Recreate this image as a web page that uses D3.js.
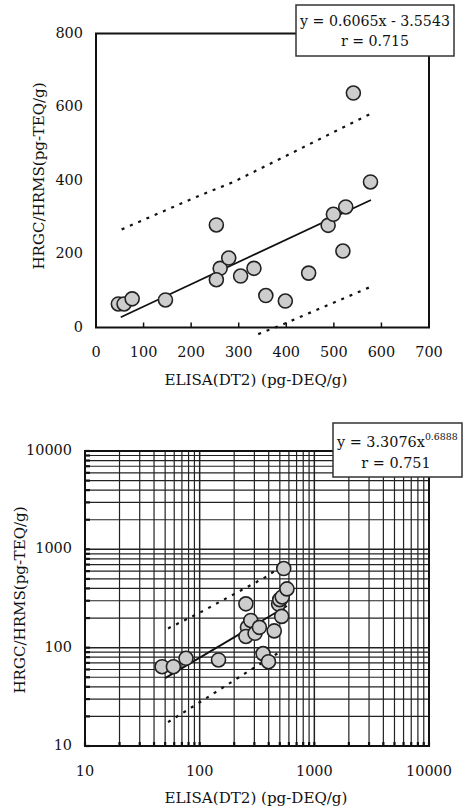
<!DOCTYPE html>
<html lang="ja">
<head>
<meta charset="utf-8">
<title>ELISA vs HRGC/HRMS</title>
<script src="https://cdn.jsdelivr.net/npm/d3@7/dist/d3.min.js"></script>
<style>
  body { margin: 0; background: #fff; }
  svg text { font-family: "DejaVu Serif", serif; fill: #111; }
</style>
</head>
<body>
<div id="chart"></div>
<script>
// measured values (ELISA DT2 vs HRGC/HRMS)
var elisa = [47, 59, 76, 146, 253, 261, 253, 279, 304, 332, 357, 398, 447, 488, 499, 525, 519, 577, 541];
var hrms  = [64, 64, 78, 75, 279, 161, 130, 189, 140, 161, 87, 72, 148, 278, 308, 328, 208, 396, 638];

// linear fit and prediction band
var linFitX = [52, 578];
var linFitY = [28, 347];
var linUpX = [54, 212, 289, 578];
var linUpY = [267, 356, 396, 582];
var linLoX = [341, 390, 578];
var linLoY = [-18, 7, 111];

// power fit and band
var powFitX = [50, 577];
var powFitY = [49, 265];
var powUpX = [53, 101, 371, 530];
var powUpY = [157, 228, 518, 680];
var powLoX = [53, 101, 275, 501];
var powLoY = [17.5, 28, 59, 90.5];

var linXTicks = [0, 100, 200, 300, 400, 500, 600, 700];
var linYTicks = [0, 200, 400, 600, 800];
var logTicks = [10, 100, 1000, 10000];

var eqLin = ["y = 0.6065x - 3.5543", "r = 0.715"];
var eqPow = ["y = 3.3076x", "0.6888", "r = 0.751"];
var xTitle = "ELISA(DT2) (pg-DEQ/g)";
var yTitle = "HRGC/HRMS(pg-TEQ/g)";

var W = 466, H = 810;
var svg = d3.select("#chart").append("svg").attr("width", W).attr("height", H);

// font size that makes a string about as wide as in the scanned figure
function fitSize(str, width) {
  var t = svg.append("text").attr("font-size", 20).text(str);
  var w = t.node().getComputedTextLength();
  t.remove();
  return 20 * width / w;
}
var tickFont = fitSize("10000", 46);
var titleFont = fitSize(xTitle, 183);
var eqFont = fitSize(eqLin[0], 150);
var eq2Font = fitSize(eqPow[0], 88);

var pts = elisa.map(function(d, i) { return [d, hrms[i]]; });
function zip(a, b) { return a.map(function(d, i) { return [d, b[i]]; }); }

/* ---------- top: linear chart ---------- */
var x1 = d3.scaleLinear().domain([0, 700]).range([96, 429]);
var y1 = d3.scaleLinear().domain([0, 800]).range([327.5, 33.5]);
var g1 = svg.append("g");

var line1 = d3.line().x(function(d) { return x1(d[0]); }).y(function(d) { return y1(d[1]); });

g1.append("path").attr("d", line1(zip(linUpX, linUpY)))
  .attr("fill", "none").attr("stroke", "#111").attr("stroke-width", 2.2).attr("stroke-dasharray", "3,6");
g1.append("path").attr("d", line1(zip(linLoX, linLoY)))
  .attr("fill", "none").attr("stroke", "#111").attr("stroke-width", 2.2).attr("stroke-dasharray", "3,6");
g1.append("path").attr("d", line1(zip(linFitX, linFitY)))
  .attr("fill", "none").attr("stroke", "#111").attr("stroke-width", 1.8);

g1.append("rect").attr("x", x1(0)).attr("y", y1(800))
  .attr("width", x1(700) - x1(0)).attr("height", y1(0) - y1(800))
  .attr("fill", "none").attr("stroke", "#111").attr("stroke-width", 2);

// inner ticks on the x axis
g1.selectAll(".xt").data(linXTicks.slice(1, -1)).enter().append("line")
  .attr("x1", function(d) { return x1(d); }).attr("x2", function(d) { return x1(d); })
  .attr("y1", y1(0)).attr("y2", y1(0) - 5)
  .attr("stroke", "#111").attr("stroke-width", 1.5);

g1.selectAll(".xl").data(linXTicks).enter().append("text")
  .attr("x", function(d) { return x1(d); }).attr("y", 353)
  .attr("text-anchor", "middle").attr("dominant-baseline", "middle")
  .attr("font-size", tickFont).text(function(d) { return d; });
g1.selectAll(".yl").data(linYTicks).enter().append("text")
  .attr("x", 83).attr("y", function(d) { return y1(d); })
  .attr("text-anchor", "end").attr("dominant-baseline", "middle")
  .attr("font-size", tickFont).text(function(d) { return d; });

g1.selectAll("circle").data(pts).enter().append("circle")
  .attr("cx", function(d) { return x1(d[0]); }).attr("cy", function(d) { return y1(d[1]); })
  .attr("r", 7).attr("fill", "#cdcdcd").attr("stroke", "#222").attr("stroke-width", 1.6);

g1.append("text").attr("x", 256).attr("y", 381).attr("text-anchor", "middle")
  .attr("dominant-baseline", "middle").attr("font-size", titleFont).text(xTitle);
g1.append("text").attr("transform", "translate(40,176) rotate(-90)").attr("text-anchor", "middle")
  .attr("dominant-baseline", "middle").attr("font-size", titleFont).text(yTitle);

g1.append("rect").attr("x", 296).attr("y", 5).attr("width", 158).attr("height", 51)
  .attr("fill", "#fff").attr("stroke", "#333").attr("stroke-width", 1.5);
g1.append("text").attr("x", 375).attr("y", 22).attr("text-anchor", "middle")
  .attr("dominant-baseline", "middle").attr("font-size", eqFont).text(eqLin[0]);
g1.append("text").attr("x", 375).attr("y", 42).attr("text-anchor", "middle")
  .attr("dominant-baseline", "middle").attr("font-size", eqFont).text(eqLin[1]);

/* ---------- bottom: log-log chart ---------- */
var x2 = d3.scaleLog().domain([10, 10000]).range([85, 429]);
var y2 = d3.scaleLog().domain([10, 10000]).range([746, 451]);
var g2 = svg.append("g");

// all 1..9 x decade values for the grid
var grid = [];
[10, 100, 1000].forEach(function(dec) {
  for (var k = 1; k < 10; k++) grid.push(dec * k);
});
grid.push(10000);

g2.selectAll(".gv").data(grid).enter().append("line")
  .attr("x1", function(d) { return x2(d); }).attr("x2", function(d) { return x2(d); })
  .attr("y1", y2(10)).attr("y2", y2(10000))
  .attr("stroke", "#222").attr("stroke-width", function(d) { return logTicks.indexOf(d) >= 0 ? 1.5 : 1.2; });
g2.selectAll(".gh").data(grid).enter().append("line")
  .attr("y1", function(d) { return y2(d); }).attr("y2", function(d) { return y2(d); })
  .attr("x1", x2(10)).attr("x2", x2(10000))
  .attr("stroke", "#222").attr("stroke-width", function(d) { return logTicks.indexOf(d) >= 0 ? 1.5 : 1.2; });

// short tick marks on the left and bottom edges
g2.selectAll(".tl").data(grid).enter().append("line")
  .attr("y1", function(d) { return y2(d); }).attr("y2", function(d) { return y2(d); })
  .attr("x1", x2(10)).attr("x2", x2(10) + 5)
  .attr("stroke", "#111").attr("stroke-width", 2.2);
g2.selectAll(".tb").data(grid).enter().append("line")
  .attr("x1", function(d) { return x2(d); }).attr("x2", function(d) { return x2(d); })
  .attr("y1", y2(10)).attr("y2", y2(10) - 4)
  .attr("stroke", "#111").attr("stroke-width", 2.2);

g2.append("rect").attr("x", x2(10)).attr("y", y2(10000))
  .attr("width", x2(10000) - x2(10)).attr("height", y2(10) - y2(10000))
  .attr("fill", "none").attr("stroke", "#111").attr("stroke-width", 2);

var line2 = d3.line().x(function(d) { return x2(d[0]); }).y(function(d) { return y2(d[1]); });
g2.append("path").attr("d", line2(zip(powUpX, powUpY)))
  .attr("fill", "none").attr("stroke", "#111").attr("stroke-width", 2.2).attr("stroke-dasharray", "3,6");
g2.append("path").attr("d", line2(zip(powLoX, powLoY)))
  .attr("fill", "none").attr("stroke", "#111").attr("stroke-width", 2.2).attr("stroke-dasharray", "3,6");
g2.append("path").attr("d", line2(zip(powFitX, powFitY)))
  .attr("fill", "none").attr("stroke", "#111").attr("stroke-width", 1.8);

g2.selectAll("circle").data(pts).enter().append("circle")
  .attr("cx", function(d) { return x2(d[0]); }).attr("cy", function(d) { return y2(d[1]); })
  .attr("r", 7).attr("fill", "#cdcdcd").attr("stroke", "#222").attr("stroke-width", 1.6);

g2.selectAll(".xl").data(logTicks).enter().append("text")
  .attr("x", function(d) { return x2(d); }).attr("y", 772)
  .attr("text-anchor", "middle").attr("dominant-baseline", "middle")
  .attr("font-size", tickFont).text(function(d) { return d; });
g2.selectAll(".yl").data(logTicks).enter().append("text")
  .attr("x", 72).attr("y", function(d) { return y2(d); })
  .attr("text-anchor", "end").attr("dominant-baseline", "middle")
  .attr("font-size", tickFont).text(function(d) { return d; });

g2.append("text").attr("x", 256).attr("y", 799).attr("text-anchor", "middle")
  .attr("dominant-baseline", "middle").attr("font-size", titleFont).text(xTitle);
g2.append("text").attr("transform", "translate(21,600) rotate(-90)").attr("text-anchor", "middle")
  .attr("dominant-baseline", "middle").attr("font-size", titleFont).text(yTitle);

g2.append("rect").attr("x", 333).attr("y", 423).attr("width", 129).attr("height", 54)
  .attr("fill", "#fff").attr("stroke", "#333").attr("stroke-width", 1.5);
var eq2 = g2.append("text").attr("x", 337).attr("y", 443)
  .attr("dominant-baseline", "middle").attr("font-size", eq2Font);
eq2.append("tspan").text(eqPow[0]);
eq2.append("tspan").attr("dy", -6).attr("font-size", eq2Font * 0.65).text(eqPow[1]);
g2.append("text").attr("x", 396).attr("y", 464).attr("text-anchor", "middle")
  .attr("dominant-baseline", "middle").attr("font-size", eq2Font).text(eqPow[2]);
</script>
</body>
</html>
